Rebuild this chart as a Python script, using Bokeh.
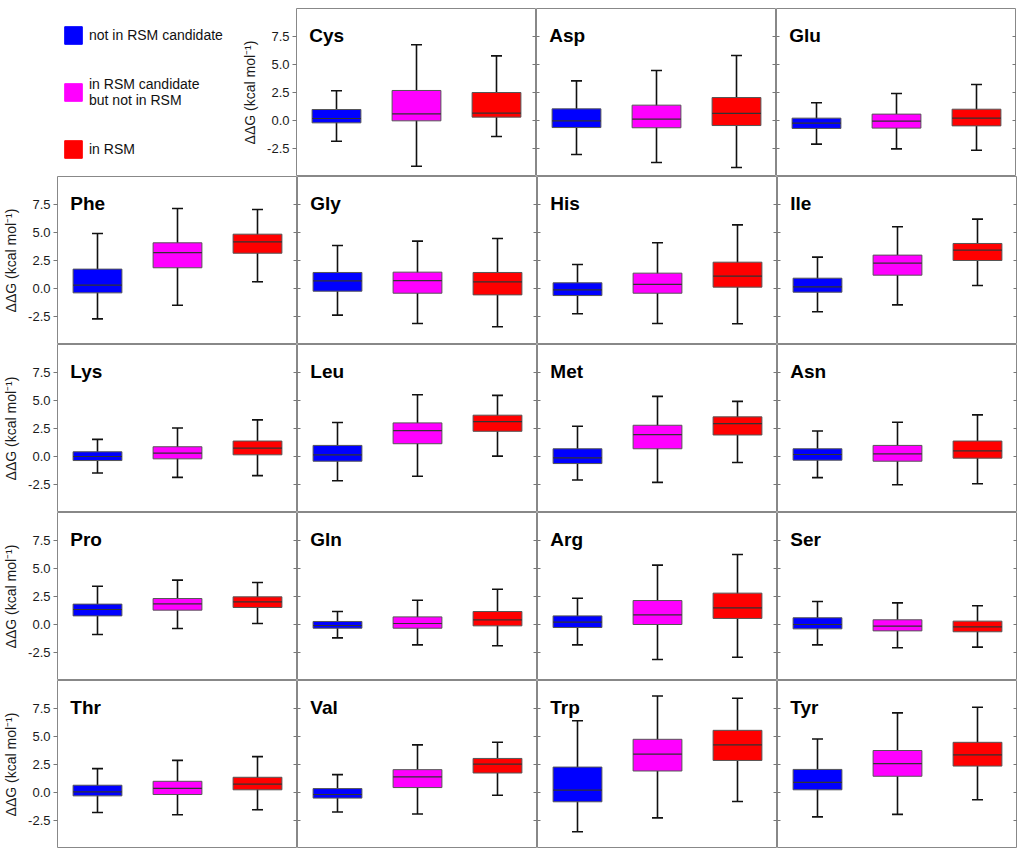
from bokeh.plotting import figure
from bokeh.layouts import column, row
from bokeh.models import (ColumnDataSource, FactorRange, Range1d, FixedTicker,
                          LinearAxis, Label, Legend, LegendItem, PrintfTickFormatter)
from bokeh.embed import file_html
from bokeh.resources import INLINE

residues = ["Cys", "Asp", "Glu", "Phe", "Gly", "His", "Ile", "Lys", "Leu", "Met",
            "Asn", "Pro", "Gln", "Arg", "Ser", "Thr", "Val", "Trp", "Tyr"]
categories = ["not in RSM candidate", "in RSM candidate but not in RSM", "in RSM"]
legend_labels = ["not in RSM candidate", "in RSM candidate\nbut not in RSM", "in RSM"]
colors = ["#0000ff", "#ff00ff", "#ff0000"]
ticks = [-2.5, 0.0, 2.5, 5.0, 7.5]

# not in RSM candidate (blue)
lo_a = [-1.85, -3.04, -2.11, -2.71, -2.38, -2.26, -2.08, -1.47, -2.16, -2.10,
        -1.89, -0.89, -1.19, -1.82, -1.82, -1.78, -1.74, -3.51, -2.18]
q1_a = [-0.21, -0.63, -0.71, -0.39, -0.24, -0.63, -0.33, -0.36, -0.42, -0.63,
        -0.33, 0.77, -0.33, -0.27, -0.39, -0.30, -0.50, -0.83, 0.24]
med_a = [0.18, -0.03, -0.24, 0.30, 0.68, -0.12, 0.15, 0.00, 0.15, -0.12,
         0.18, 1.34, -0.09, 0.21, 0.00, 0.06, -0.18, 0.21, 0.91]
q3_a = [0.98, 1.04, 0.21, 1.73, 1.43, 0.51, 0.92, 0.42, 0.99, 0.69,
        0.69, 1.82, 0.27, 0.77, 0.60, 0.65, 0.35, 2.27, 2.06]
hi_a = [2.65, 3.54, 1.58, 4.91, 3.84, 2.14, 2.80, 1.53, 3.03, 2.70,
        2.28, 3.42, 1.16, 2.35, 2.05, 2.13, 1.60, 6.40, 4.78]

# in RSM candidate but not in RSM (magenta)
lo_b = [-4.08, -3.75, -2.53, -1.49, -3.13, -3.13, -1.46, -1.86, -1.77, -2.31,
        -2.52, -0.36, -1.82, -3.13, -2.08, -1.98, -1.92, -2.27, -1.95]
q1_b = [-0.03, -0.65, -0.68, 1.85, -0.42, -0.42, 1.19, -0.21, 1.14, 0.69,
        -0.42, 1.28, -0.33, 0.00, -0.57, -0.18, 0.44, 1.92, 1.45]
med_b = [0.60, 0.12, -0.06, 3.21, 0.71, 0.36, 2.26, 0.30, 2.31, 1.95,
         0.24, 1.85, 0.09, 0.86, -0.15, 0.36, 1.39, 3.42, 2.57]
q3_b = [2.68, 1.37, 0.57, 4.08, 1.46, 1.37, 2.98, 0.87, 3.00, 2.79,
        0.99, 2.32, 0.68, 2.14, 0.42, 1.00, 2.04, 4.75, 3.75]
hi_b = [6.76, 4.46, 2.41, 7.14, 4.23, 4.08, 5.51, 2.55, 5.52, 5.37,
        3.06, 3.96, 2.17, 5.30, 1.93, 2.87, 4.25, 8.61, 7.11]

# in RSM (red)
lo_c = [-1.43, -4.20, -2.65, 0.60, -3.42, -3.15, 0.27, -1.71, 0.03, -0.54,
        -2.43, 0.09, -1.90, -2.92, -2.02, -1.54, -0.24, -0.80, -0.65]
q1_c = [0.30, -0.45, -0.48, 3.15, -0.57, 0.12, 2.50, 0.15, 2.25, 1.92,
        -0.15, 1.52, -0.12, 0.54, -0.65, 0.24, 1.74, 2.86, 2.36]
med_c = [0.65, 0.63, 0.21, 4.17, 0.60, 1.10, 3.42, 0.75, 3.12, 2.94,
         0.51, 2.02, 0.42, 1.49, -0.21, 0.74, 2.54, 4.25, 3.36]
q3_c = [2.50, 2.05, 1.01, 4.85, 1.43, 2.35, 4.02, 1.38, 3.69, 3.54,
        1.38, 2.47, 1.16, 2.80, 0.30, 1.36, 3.04, 5.55, 4.48]
hi_c = [5.77, 5.80, 3.21, 7.05, 4.46, 5.68, 6.19, 3.27, 5.46, 4.92,
        3.72, 3.75, 3.15, 6.25, 1.67, 3.20, 4.48, 8.41, 7.61]

FONT = "Liberation Sans"
LEFT = 55          # room for tick labels + axis label on labelled panels


def make_panel(i, labelled):
    src = ColumnDataSource(dict(
        cat=categories,
        lo=[lo_a[i], lo_b[i], lo_c[i]],
        q1=[q1_a[i], q1_b[i], q1_c[i]],
        med=[med_a[i], med_b[i], med_c[i]],
        q3=[q3_a[i], q3_b[i], q3_c[i]],
        hi=[hi_a[i], hi_b[i], hi_c[i]],
        color=colors,
    ))
    p = figure(x_range=FactorRange(factors=categories, range_padding=0),
               y_range=Range1d(-5, 10), frame_width=240, frame_height=168,
               min_border=0, min_border_left=LEFT if labelled else 0,
               x_axis_location=None, y_axis_location="left",
               toolbar_location=None, output_backend="svg")
    p.outline_line_color = "#888888"
    p.grid.visible = False

    ax = p.yaxis[0]
    ax.ticker = FixedTicker(ticks=ticks)
    ax.minor_tick_line_color = None
    ax.axis_line_color = None
    ax.major_tick_line_color = "#777777"
    if labelled:
        ax.formatter = PrintfTickFormatter(format="%.1f")
        ax.major_tick_out = 4
        ax.major_tick_in = 0
        ax.major_label_standoff = 3
        ax.major_label_text_font = FONT
        ax.major_label_text_font_size = "13px"
        ax.major_label_text_color = "#1a1a1a"
        ax.axis_label = "ΔΔG (kcal mol⁻¹)"
        ax.axis_label_text_font = FONT
        ax.axis_label_text_font_size = "14px"
        ax.axis_label_text_font_style = "normal"
        ax.axis_label_text_color = "#1a1a1a"
        ax.axis_label_standoff = 6
    else:
        ax.major_tick_out = 0
        ax.major_tick_in = 3
        ax.major_label_standoff = 0
        ax.major_label_overrides = {t: "" for t in ticks}
        ax.major_label_text_font_size = "0px"

    right = LinearAxis(ticker=FixedTicker(ticks=ticks), major_tick_in=4, major_tick_out=0,
                       major_label_standoff=0, major_label_text_font_size="0px",
                       major_label_overrides={t: "" for t in ticks},
                       minor_tick_line_color=None, axis_line_color=None,
                       major_tick_line_color="#777777")
    p.add_layout(right, "right")

    p.segment(x0="cat", y0="lo", x1="cat", y1="hi", source=src,
              line_color="#111111", line_width=1.6)
    p.scatter(x="cat", y="lo", source=src, marker="dash", size=11,
              line_color="#111111", line_width=1.6)
    p.scatter(x="cat", y="hi", source=src, marker="dash", size=11,
              line_color="#111111", line_width=1.6)
    p.vbar(x="cat", bottom="q1", top="q3", width=0.61, source=src,
           fill_color="color", line_color="#555555", line_width=1)
    p.vbar(x="cat", bottom="med", top="med", width=0.61, source=src,
           fill_alpha=0, line_color="#333333", line_width=1.2)

    p.add_layout(Label(x=0.16, y=7.6, text=residues[i], text_font=FONT,
                       text_font_size="19px", text_font_style="bold",
                       text_color="black", text_baseline="alphabetic"))
    return p


# legend cell (top-left): swatch-only renderer, its boxes have no extent
leg = figure(x_range=FactorRange(factors=categories), y_range=Range1d(0, 1),
             frame_width=193, frame_height=168, min_border=0, min_border_left=46,
             x_axis_location=None, y_axis_location=None,
             toolbar_location=None, output_backend="svg")
leg.outline_line_color = None
leg.grid.visible = False
swatch_src = ColumnDataSource(dict(cat=categories, color=colors))
swatches = leg.vbar(x="cat", top=float("nan"), bottom=float("nan"), width=0.6,
                    source=swatch_src, fill_color="color", line_color="color")
legend = Legend(
    items=[LegendItem(label=lab, renderers=[swatches], index=k)
           for k, lab in enumerate(legend_labels)],
    location="top_left", margin=16, padding=0, spacing=30,
    glyph_width=22, glyph_height=22, label_height=22, label_standoff=5,
    label_text_font=FONT, label_text_font_size="14px",
    label_text_color="#111111", border_line_color=None,
    background_fill_alpha=0)
leg.add_layout(legend)

panels = [make_panel(i, i == 0 or (i + 1) % 4 == 0) for i in range(len(residues))]

rows = [[leg] + panels[0:3]] + [panels[k:k + 4] for k in range(3, len(panels), 4)]
layout = column(*[row(*r) for r in rows], margin=(8, 0, 0, 0))

open("out.html", "w").write(file_html(layout, INLINE))
